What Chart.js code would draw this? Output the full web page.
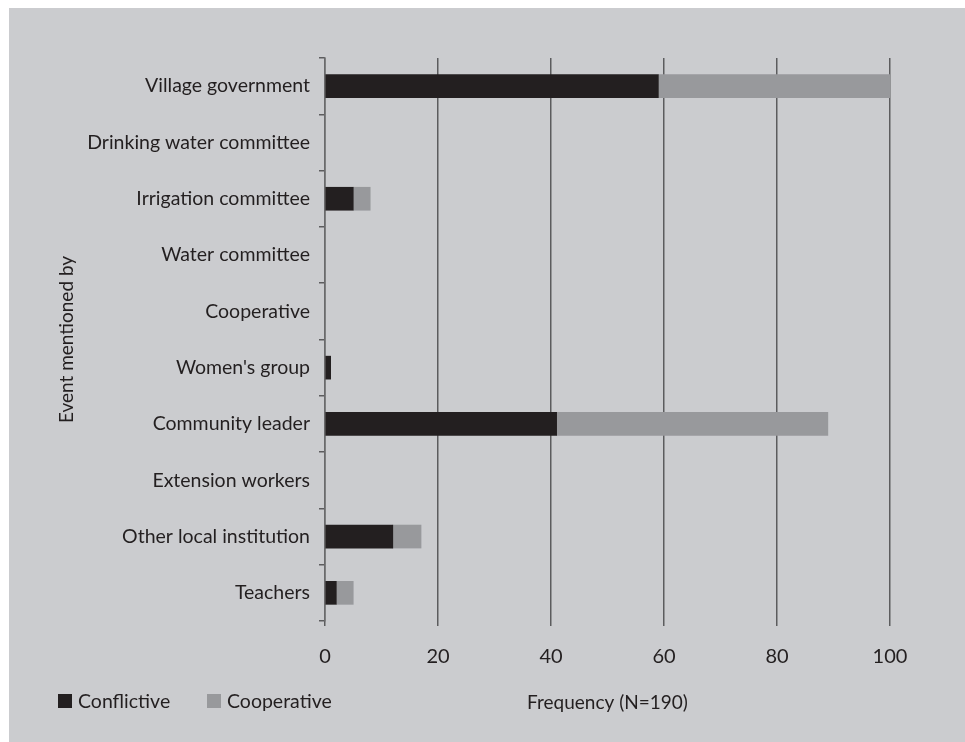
<!DOCTYPE html>
<html><head><meta charset="utf-8">
<script src="https://cdn.jsdelivr.net/npm/chart.js@4"></script>
<style>
html,body{margin:0;padding:0;background:#fff;width:965px;height:742px;overflow:hidden}
#wrap{position:absolute;left:9px;top:8px;width:956px;height:734px;background:#cbcccf}
#c{position:absolute;left:0;top:0}
.leg{position:absolute;font-family:Lato,sans-serif;font-size:19.5px;color:#231f20;display:flex;align-items:center}
.sw{width:14px;height:14px;display:inline-block;margin-right:6px}
</style></head><body>
<div id="wrap"><canvas id="c" width="956" height="734"></canvas>
<div class="leg" style="left:49px;top:681px"><span class="sw" style="background:#231f20"></span>Conflictive</div>
<div class="leg" style="left:198px;top:681px"><span class="sw" style="background:#98999c"></span>Cooperative</div>
</div>
<script>
const categories = ["Village government","Drinking water committee","Irrigation committee","Water committee","Cooperative","Women's group","Community leader","Extension workers","Other local institution","Teachers"];
const conflictive = [59,0,5,0,0,1,41,0,12,2];
const cooperative = [41,0,3,0,0,0,48,0,5,3];
const xTicks = [0,20,40,60,80,100];
const font = "Lato, sans-serif";
const txt = "#231f20";
new Chart(document.getElementById('c'), {
  type: 'bar',
  data: { labels: categories, datasets: [
    {label:'Conflictive', data: conflictive.map(v => v || null), backgroundColor:'#231f20', barThickness:23},
    {label:'Cooperative', data: cooperative.map(v => v || null), backgroundColor:'#98999c', barThickness:23}
  ]},
  options: {
    indexAxis:'y', responsive:false, animation:false,
    layout:{padding:{top:50,right:75,left:0,bottom:0}},
    plugins:{legend:{display:false}, tooltip:{enabled:false}},
    scales:{
      x:{stacked:true, min:0, max:100,
        afterBuildTicks: s => { s.ticks = xTicks.map(v=>({value:v})); },
        afterFit: s => { s.height = 734 - 613; },
        grid:{color:'#5c5c5e', lineWidth:1.5, drawTicks:true, tickLength:5, tickColor:'#5c5c5e'},
        border:{display:false},
        ticks:{font:{family:font,size:20}, color:txt, padding:19},
        title:{display:true, text:'Frequency (N=190)', font:{family:font,size:19}, color:txt, padding:{top:0,bottom:28}}
      },
      y:{stacked:true,
        afterFit: s => { s.width = 316; },
        grid:{offset:true, drawOnChartArea:false, drawTicks:true, tickLength:6, tickColor:'#5c5c5e', lineWidth:1.5},
        border:{display:true, color:'#6a6a6c', width:1.5},
        ticks:{font:{family:font,size:19.5}, color:txt, padding:9},
        title:{display:true, text:'Event mentioned by', font:{family:font,size:19}, color:txt, padding:{top:46,bottom:0}}
      }
    }
  }
});
</script>
</body></html>
